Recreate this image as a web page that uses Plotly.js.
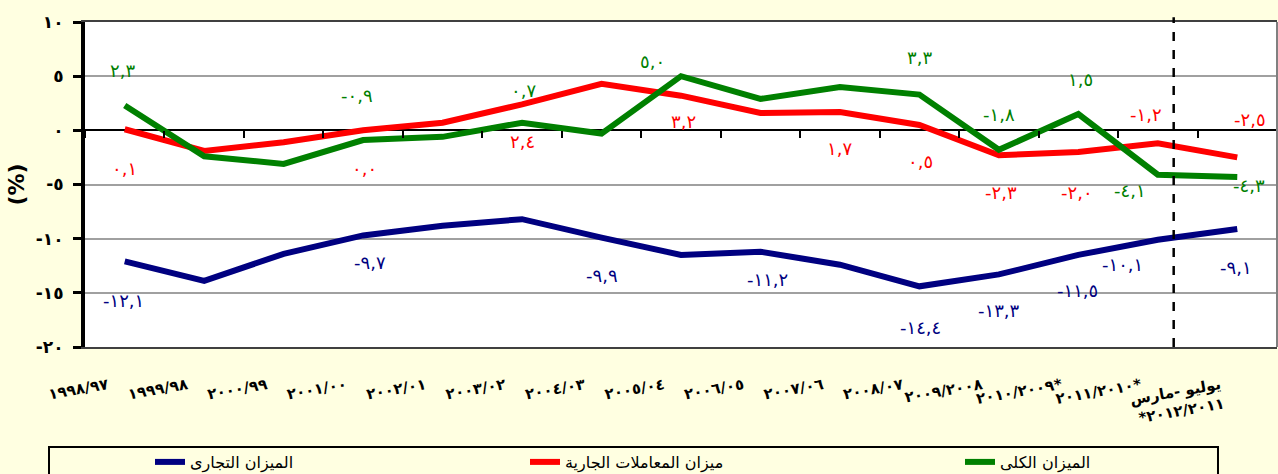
<!DOCTYPE html>
<html>
<head>
<meta charset="utf-8">
<script src="https://cdn.plot.ly/plotly-3.0.1.min.js"></script>
<style>html,body{margin:0;padding:0;background:#FFFFE1;}</style>
</head>
<body>
<div id="chart" style="width:1278px;height:474px;"></div>
<script>
// ---- data ----
const categories = ['١٩٩٨/٩٧','١٩٩٩/٩٨','٢٠٠٠/٩٩','٢٠٠١/٠٠','٢٠٠٢/٠١','٢٠٠٣/٠٢','٢٠٠٤/٠٣','٢٠٠٥/٠٤','٢٠٠٦/٠٥','٢٠٠٧/٠٦','٢٠٠٨/٠٧','٢٠٠٩/٢٠٠٨','٢٠١٠/٢٠٠٩*','٢٠١١/٢٠١٠*','يوليو -مارس<br>*٢٠١٢/٢٠١١'];
const tradeName = 'الميزان التجارى';
const currentName = 'ميزان المعاملات الجارية';
const overallName = 'الميزان الكلى';
const tradeBalance = [-12.1, -13.9, -11.4, -9.7, -8.8, -8.2, -9.9, -11.5, -11.2, -12.4, -14.4, -13.3, -11.5, -10.1, -9.1];
const currentAccount = [0.1, -1.9, -1.1, 0.0, 0.7, 2.4, 4.3, 3.2, 1.6, 1.7, 0.5, -2.3, -2.0, -1.2, -2.5];
const overallBalance = [2.3, -2.4, -3.1, -0.9, -0.6, 0.7, -0.3, 5.0, 2.9, 4.0, 3.3, -1.8, 1.5, -4.1, -4.3];
const yTickValues = [10, 5, 0, -5, -10, -15, -20];
const yAxisTitle = '(%)';

// ---- styles / label placement (pixel offsets, null = no label) ----
const tradeLabelOffsets = [[-1,39],null,null,[7,27],null,null,[0,38],null,[7,28],null,[1,41],[0,36],[-1,36],[-35,25],[-1,39]];
const currentLabelOffsets = [[0,39],null,null,[1,38],null,[0,37],null,[2,26],null,[0,37],[1,37],[2,37],[-1,40],[-12,-29],[13,-38]];
const overallLabelOffsets = [[-2,-35],null,null,[-6,-45],null,[1,-32],null,[-29,-15],null,null,[0,-37],[0,-35],[2,-35],[-28,16],[12,9]];
const legendX = [150 / 1278, 525 / 1278, 960 / 1278];
const legendTop = 1 - 445 / 474;
const dividerPos = 13.2;

const arabicDigits = ['٠','١','٢','٣','٤','٥','٦','٧','٨','٩'];
function toArabic(str){ return String(str).replace(/[0-9]/g, d => arabicDigits[+d]).replace('.', ','); }
function fmt(v){ return toArabic((Math.abs(v) < 1e-9 ? 0 : v).toFixed(1)); }

const FONT = 'DejaVu Sans, sans-serif';
const series = [
  {name: tradeName, y: tradeBalance, color: '#000080', offsets: tradeLabelOffsets},
  {name: currentName, y: currentAccount, color: '#FF0000', offsets: currentLabelOffsets},
  {name: overallName, y: overallBalance, color: '#008000', offsets: overallLabelOffsets}
];
const legendIds = ['legend', 'legend2', 'legend3'];

const traces = series.map((s, k) => ({
  type: 'scatter', mode: 'lines', name: s.name,
  x: categories, y: s.y,
  line: {color: s.color, width: 6},
  legend: legendIds[k],
  hoverinfo: 'skip'
}));
// invisible helper trace so the zero-line tick axis is drawn
traces.push({
  type: 'scatter', mode: 'lines', x: categories.map((c, i) => i), y: overallBalance,
  xaxis: 'x2', yaxis: 'y', opacity: 0, showlegend: false, hoverinfo: 'skip',
  line: {width: 0}
});

const annotations = [];
series.forEach(s => {
  s.y.forEach((v, i) => {
    const o = s.offsets[i];
    if (!o) return;
    annotations.push({
      x: categories[i], y: v, xref: 'x', yref: 'y',
      text: fmt(v), showarrow: false,
      xshift: o[0], yshift: -o[1],
      font: {family: FONT, size: 18, color: s.color}
    });
  });
});

const yMin = -20, yMax = 10;
const zeroFrac = (0 - yMin) / (yMax - yMin);
const xRange = [-0.5, categories.length - 0.5];

function legendCfg(x){
  return {
    orientation: 'h', xref: 'container', yref: 'container',
    x: x, y: legendTop, xanchor: 'left', yanchor: 'top',
    font: {family: FONT, size: 16, color: '#000000'},
    bgcolor: 'rgba(0,0,0,0)', borderwidth: 0
  };
}

const layout = {
  width: 1278, height: 474,
  margin: {l: 85, r: 1, t: 22, b: 127, pad: 0},
  paper_bgcolor: '#FFFFE1',
  plot_bgcolor: '#FFFFFF',
  showlegend: true,
  xaxis: {
    type: 'category', range: xRange,
    showline: true, linecolor: '#404040', linewidth: 2, mirror: true,
    showgrid: false, zeroline: false, ticks: '',
    tickangle: -10, ticklabelshift: -17, ticklabelstandoff: 22,
    tickfont: {family: FONT, size: 15, color: '#000000', weight: 'bold'},
    automargin: false, fixedrange: true
  },
  xaxis2: {
    overlaying: 'x', anchor: 'free', position: zeroFrac, type: 'linear',
    range: xRange, tick0: 0.5, dtick: 1,
    ticks: 'outside', ticklen: 7, tickwidth: 2, tickcolor: '#000000',
    showticklabels: false, showgrid: false, zeroline: false, showline: false,
    fixedrange: true
  },
  yaxis: {
    range: [yMin, yMax],
    tickvals: yTickValues, ticktext: yTickValues.map(v => toArabic(v)),
    showgrid: true, gridcolor: '#A0A0A0', gridwidth: 2,
    zeroline: true, zerolinecolor: '#000000', zerolinewidth: 2,
    showline: true, linecolor: '#000000', linewidth: 4,
    ticks: 'outside', ticklen: 8, tickwidth: 3, tickcolor: '#000000',
    ticklabelstandoff: 6,
    tickfont: {family: FONT, size: 17, color: '#000000', weight: 'bold'},
    title: {text: yAxisTitle, font: {family: FONT, size: 22, color: '#000000', weight: 'bold'}, standoff: 6},
    automargin: false, fixedrange: true
  },
  legend: legendCfg(legendX[0]),
  legend2: legendCfg(legendX[1]),
  legend3: legendCfg(legendX[2]),
  shapes: [
    {type: 'line', xref: 'paper', yref: 'paper', x0: 1, x1: 1, y0: 0, y1: 1, line: {color: '#808080', width: 2}},
    {type: 'line', xref: 'x', yref: 'paper', x0: dividerPos, x1: dividerPos, y0: 0, y1: 1.015, line: {color: '#000000', width: 2.5, dash: 'dash'}},
    {type: 'rect', xref: 'paper', yref: 'paper', x0: -0.0302, x1: 0.9505, y0: -0.3077, y1: -0.45, line: {color: '#000000', width: 2}, fillcolor: 'rgba(0,0,0,0)'}
  ],
  annotations: annotations
};

Plotly.newPlot('chart', traces, layout, {displayModeBar: false, staticPlot: true});
</script>
</body>
</html>
